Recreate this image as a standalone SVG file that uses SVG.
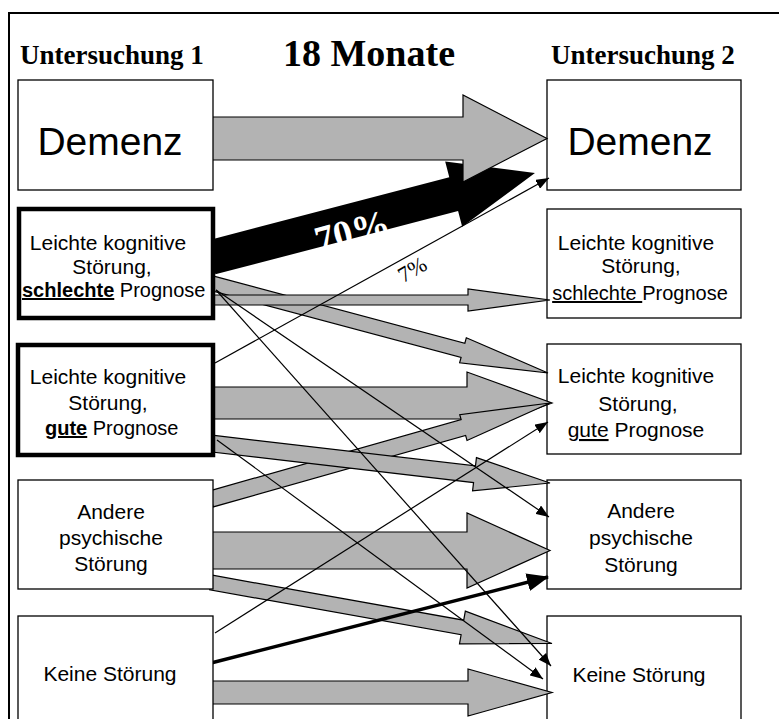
<svg xmlns="http://www.w3.org/2000/svg" width="779" height="719" viewBox="0 0 779 719">
<style>
.box{fill:#fff;stroke:#000;stroke-width:1.3}
.thick{fill:#fff;stroke:#000;stroke-width:4.5}
.t{font-family:"Liberation Sans",Arial,sans-serif;font-size:21px;fill:#000;text-anchor:middle}
.ts{font-family:"Liberation Sans",Arial,sans-serif;font-size:20px;fill:#000;text-anchor:start}
.big{font-family:"Liberation Sans",Arial,sans-serif;font-size:39px;fill:#000;text-anchor:middle}
.hd{font-family:"Liberation Serif","Times New Roman",serif;font-weight:bold;fill:#000}
.ga{fill:#b3b3b3;stroke:#000;stroke-width:1.2;stroke-linejoin:miter}
.ln{fill:none;stroke:#000;stroke-width:1.2}
</style>
<defs>
<marker id="ah" markerUnits="userSpaceOnUse" markerWidth="13" markerHeight="10" refX="13" refY="5" orient="auto">
<path d="M0,0 L13,5 L0,10 Z" fill="#000"/>
</marker>
<marker id="ahb" markerUnits="userSpaceOnUse" markerWidth="22" markerHeight="18" refX="21" refY="9" orient="auto">
<path d="M0,0 L22,9 L0,18 Z" fill="#000"/>
</marker>
</defs>
<rect width="779" height="719" fill="#fff"/>
<path d="M9,719 V13 H779" fill="none" stroke="#000" stroke-width="2"/>
<g id="header">
<text class="hd" x="20" y="64" font-size="27">Untersuchung 1</text>
<text class="hd" x="283" y="66" font-size="38">18 Monate</text>
<text class="hd" x="551" y="64" font-size="27">Untersuchung 2</text>
</g>
<g id="r-demenz"><rect class="box" x="547" y="80" width="194" height="110"/><text class="big" x="640" y="155">Demenz</text></g>
<g id="r-lks-schlecht"><rect class="box" x="547" y="209" width="194" height="109"/>
<text class="t" x="636" y="250">Leichte kognitive</text><text class="t" x="641" y="273">Störung,</text>
<text class="t" x="640" y="300" style="font-size:20px"><tspan text-decoration="underline">schlechte </tspan>Prognose</text></g>
<g id="r-lks-gut"><rect class="box" x="547" y="344" width="194" height="110"/>
<text class="t" x="636" y="383">Leichte kognitive</text><text class="t" x="638" y="411">Störung,</text>
<text class="t" x="636" y="437"><tspan text-decoration="underline">gute</tspan> Prognose</text></g>
<g id="r-andere"><rect class="box" x="547" y="480" width="194" height="109"/>
<text class="t" x="641" y="518">Andere</text><text class="t" x="641" y="545">psychische</text><text class="t" x="641" y="572">Störung</text></g>
<g id="r-keine"><rect class="box" x="547" y="616" width="194" height="110"/>
<text class="t" x="639" y="682">Keine Störung</text></g>
<g id="connectors">
<path class="ga" d="M211,681 H468 V669 L552,692.5 L468,716 V704 H211 Z"/>
<path class="ga" transform="translate(211,582.5) rotate(10.14)" d="M0,-7.4 H255.4 V-16.6 L346.4,0 L255.4,16.6 V7.4 H0 Z"/>
<path class="ga" d="M211,532 H467 V513 L550,550.5 L467,588 V569 H211 Z"/>
<path class="ga" d="M211,387 H467 V372 L552,403 L467,434 V419 H211 Z"/>
<path class="ga" transform="translate(211,499) rotate(-15.81)" d="M0,-8.2 H262.3 V-13.4 L352.3,0 L262.3,13.4 V8.2 H0 Z"/>
<path class="ga" transform="translate(211,443.5) rotate(6.65)" d="M0,-8.4 H265.3 V-16.7 L341.3,0 L265.3,16.7 V8.4 H0 Z"/>
<path class="ga" transform="translate(211,283) rotate(14.95)" d="M0,-7.3 H260.8 V-13 L348.8,0 L260.8,13 V7.3 H0 Z"/>
<path class="ga" d="M211,295 H468 V289 L550,300 L468,311 V305 H211 Z"/>
<g transform="translate(211,257.5) rotate(-14.62)">
<path d="M0,-17.4 H250.8 V-33.7 L334.8,0 L250.8,33.7 V17.4 H0 Z" fill="#000"/>
<text x="143" y="23" font-family="Liberation Serif,'Times New Roman',serif" font-weight="bold" font-size="38" fill="#fff" text-anchor="middle">70%</text>
</g>
<path class="ga" d="M211,117 H463 V95 L547,138.5 L463,182 V160 H211 Z"/>
<line class="ln" x1="215" y1="363" x2="549" y2="178" marker-end="url(#ah)"/>
<line class="ln" x1="215" y1="633" x2="548" y2="422" marker-end="url(#ah)"/>
<line class="ln" x1="216" y1="290" x2="549" y2="517" marker-end="url(#ah)"/>
<line class="ln" x1="216" y1="290" x2="551" y2="666" marker-end="url(#ah)"/>
<line class="ln" x1="217" y1="440" x2="543" y2="679" marker-end="url(#ah)"/>
<line x1="211" y1="663" x2="548" y2="577" stroke="#000" stroke-width="3.5" marker-end="url(#ahb)"/>
<text transform="translate(416,276) rotate(-30)" font-family="Liberation Serif,'Times New Roman',serif" font-size="22" text-anchor="middle">7%</text>
</g>
<g id="l-demenz"><rect class="box" x="18" y="80" width="195" height="110"/><text class="big" x="110" y="155">Demenz</text></g>
<g id="l-lks-schlecht"><rect class="thick" x="19" y="209" width="194" height="109"/>
<text class="t" x="108" y="250">Leichte kognitive</text><text class="t" x="112" y="274">Störung,</text>
<text class="ts" x="22" y="297"><tspan font-weight="bold" text-decoration="underline">schlechte</tspan> Prognose</text></g>
<g id="l-lks-gut"><rect class="thick" x="18" y="345" width="195" height="110"/>
<text class="t" x="108" y="384">Leichte kognitive</text><text class="t" x="108" y="410">Störung,</text>
<text class="ts" x="45" y="435"><tspan font-weight="bold" text-decoration="underline">gute</tspan> Prognose</text></g>
<g id="l-andere"><rect class="box" x="18" y="480" width="195" height="109"/>
<text class="t" x="111" y="519">Andere</text><text class="t" x="111" y="545">psychische</text><text class="t" x="111" y="571">Störung</text></g>
<g id="l-keine"><rect class="box" x="18" y="616" width="195" height="110"/>
<text class="t" x="110" y="681">Keine Störung</text></g>
</svg>
